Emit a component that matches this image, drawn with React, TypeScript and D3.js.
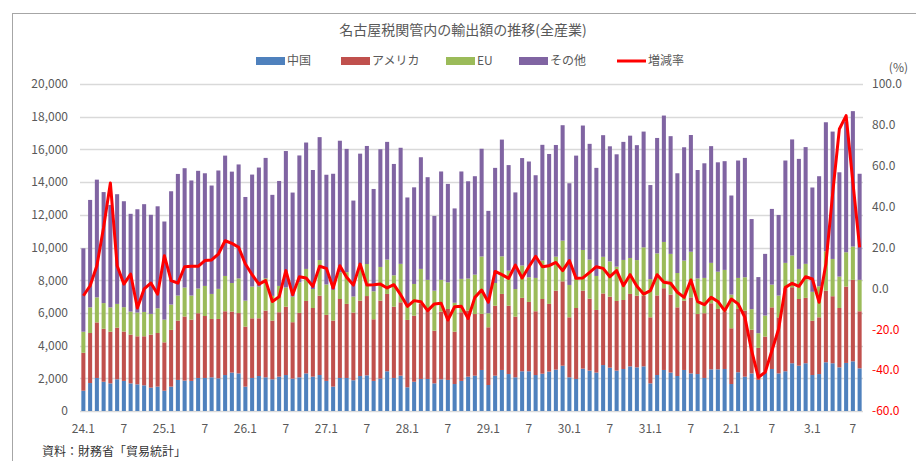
import React, { useRef, useEffect } from 'react';
import * as d3 from 'd3';

// 年（平成24〜31、令和2〜3）
const years = ['24', '25', '26', '27', '28', '29', '30', '31', '2', '3'];
const monthCount = 116;
const months: string[] = [];
years.forEach((yy) => {
  for (let m = 1; m <= 12; m++) {
    if (months.length < monthCount) months.push(`${yy}.${m}`);
  }
});

const tickLabels = [
  '24.1', '7', '25.1', '7', '26.1', '7', '27.1', '7', '28.1', '7',
  '29.1', '7', '30.1', '7', '31.1', '7', '2.1', '7', '3.1', '7',
];

// 億円
const china = [
  1240, 1710, 2020, 1790, 1690, 1940, 1840, 1690, 1630, 1570, 1430, 1490,
  1240, 1490, 1900, 1860, 1840, 2020, 2020, 2060, 2000, 2200, 2350, 2300,
  1490, 2020, 2140, 2060, 1940, 2100, 2200, 1980, 2060, 2300, 2100, 2200,
  1840, 1490, 2020, 2020, 1880, 2140, 2180, 1840, 1980, 2430, 2020, 2160,
  1450, 1790, 1960, 1960, 1690, 1940, 1900, 1650, 1840, 2100, 2160, 2510,
  1590, 2160, 2510, 2260, 2060, 2430, 2430, 2200, 2280, 2410, 2530, 2770,
  2060, 1960, 2590, 2470, 2350, 2810, 2650, 2470, 2570, 2730, 2670, 2730,
  1690, 2200, 2510, 2350, 2140, 2510, 2300, 2260, 2020, 2550, 2550, 2570,
  1650, 2370, 2100, 2300, 1900, 2350, 2570, 2300, 2430, 2920, 2770, 2920,
  2200, 2260, 2980, 2920, 2670, 2940, 3040, 2610,
];
const usa = [
  2320, 3060, 3400, 3240, 3160, 3160, 3020, 2980, 2940, 3000, 3240, 3280,
  2960, 3470, 3630, 3920, 3750, 3960, 3790, 3570, 3630, 3900, 3730, 3690,
  3670, 3650, 3530, 4080, 3590, 3940, 4180, 3450, 3940, 4430, 4200, 4850,
  4040, 4040, 4830, 4530, 4140, 4610, 4850, 3770, 4770, 4730, 4360, 4490,
  4120, 4040, 4590, 4180, 3220, 4140, 4340, 3200, 4200, 4040, 3770, 3430,
  3530, 4280, 4650, 4180, 3710, 4490, 4240, 3900, 4570, 4140, 4830, 5160,
  3670, 4340, 4770, 4400, 3830, 4380, 4340, 4260, 4220, 4430, 4380, 4320,
  4040, 4870, 5000, 4770, 4200, 4240, 4650, 3670, 3960, 4040, 3690, 3510,
  3410, 3870, 4040, 2670, 1960, 2200, 3770, 3430, 5100, 4650, 4080, 4000,
  3320, 3470, 4380, 4100, 3630, 4670, 4980, 3490,
];
const eu = [
  1290, 1570, 1530, 1570, 1490, 1450, 1490, 1410, 1450, 1490, 1270, 1510,
  1390, 1550, 1530, 1770, 1470, 1510, 1840, 1530, 1840, 2160, 1750, 2120,
  1590, 1940, 1940, 1980, 1510, 1610, 1180, 1570, 1860, 1960, 1160, 2180,
  1860, 1880, 1630, 1940, 980, 2240, 1960, 1710, 2060, 2100, 1920, 2350,
  840, 1940, 2140, 1880, 2450, 1940, 1630, 1770, 2040, 1960, 2410, 3510,
  860, 1390, 2300, 2140, 1690, 1980, 1510, 2040, 2350, 2280, 2080, 2490,
  1980, 1770, 2490, 2390, 2080, 2240, 2160, 2100, 2450, 2200, 2180, 2960,
  2340, 2570, 2830, 2490, 2100, 2450, 2790, 2180, 2160, 2470, 2280, 2550,
  2060, 1900, 2040, 1260, 900, 1290, 1390, 1330, 1530, 1940, 1840, 2080,
  1770, 1900, 2410, 2280, 1920, 2100, 2040, 1920,
];
const others = [
  5100, 6570, 7200, 6790, 6260, 6710, 6480, 5980, 6320, 6590, 6060, 6240,
  6000, 6930, 7440, 7300, 7040, 7200, 6890, 6630, 7240, 7360, 6810, 6970,
  6340, 6850, 7280, 7360, 6180, 6420, 8340, 6360, 7770, 7730, 7280, 7520,
  6710, 7100, 8050, 7540, 5870, 6750, 7220, 6260, 7200, 7200, 6810, 7100,
  6650, 5910, 6830, 6280, 4570, 6630, 6020, 5770, 6570, 5950, 6020, 6590,
  6260, 7040, 7140, 6460, 5910, 6570, 7080, 6280, 7080, 6890, 6830, 7060,
  6220, 7550, 7610, 7080, 6610, 7440, 7040, 6870, 7220, 7480, 7030, 7080,
  5750, 7060, 7730, 7200, 6100, 6930, 7140, 6630, 7010, 7140, 6690, 6650,
  6060, 7180, 7300, 5510, 3430, 3770, 4630, 4930, 6260, 7100, 6730, 7140,
  6380, 6730, 7890, 7790, 6380, 7990, 8280, 6490,
];
// 増減率（%）
const growth = [
  -3.6, 1.3, 11.1, 29.9, 51.6, 11.1, 2.1, 7.0, -9.6, -0.3, 2.6, -2.8,
  16.0, 3.8, 2.6, 10.6, 10.8, 10.8, 13.6, 13.9, 16.8, 23.3, 22.0, 20.1,
  11.9, 6.7, 2.1, 3.8, -6.4, -4.1, 8.7, -3.1, 5.7, 5.1, 1.0, 10.8,
  9.8, 0.2, 11.1, 5.4, 1.6, 11.9, 1.6, 1.8, 2.1, 0.2, 1.8, -3.1,
  -8.8, -6.0, -6.5, -10.9, -7.6, -7.3, -15.5, -9.0, -8.8, -14.7, -4.4, -0.8,
  -6.8, 8.3, 6.7, 4.9, 11.4, 5.1, 10.6, 15.7, 10.6, 11.1, 12.7, 8.7,
  13.6, 4.9, 5.1, 7.8, 10.6, 9.8, 5.7, 8.7, 1.3, 6.7, 1.0, -2.8,
  -1.1, 6.7, 3.0, 2.5, -1.9, -4.4, 4.1, -6.5, -8.0, -4.4, -6.4, -10.9,
  -5.2, -7.6, -14.2, -30.5, -43.5, -41.1, -30.5, -19.9, 0.5, 2.5, 1.0, 5.7,
  4.6, -6.8, 11.9, 46.2, 78.0, 84.5, 52.0, 20.1,
];

const seriesKeys = ['中国', 'アメリカ', 'EU', 'その他'];
const colors = ['#4f81bd', '#c0504d', '#9bbb59', '#8064a2'];

const FONT = '"Noto Sans CJK JP", "Noto Sans", sans-serif';

const Chart = () => {
  const ref = useRef<SVGSVGElement>(null);

  useEffect(() => {
    const svg = d3.select(ref.current);
    svg.selectAll('*').remove();

    const margin = { left: 80, right: 863, top: 84, bottom: 411 };

    const rows = months.map((m, i) => ({
      month: m,
      中国: china[i],
      アメリカ: usa[i],
      EU: eu[i],
      その他: others[i],
    }));

    const x = d3
      .scaleBand()
      .domain(months)
      .range([margin.left, margin.right])
      .paddingInner(0.4)
      .paddingOuter(0.2);
    const y = d3.scaleLinear().domain([0, 20000]).range([margin.bottom, margin.top]);
    const y2 = d3.scaleLinear().domain([-60, 100]).range([margin.bottom, margin.top]);

    // 外枠
    svg
      .append('rect')
      .attr('x', 12.5)
      .attr('y', 13.5)
      .attr('width', 1000)
      .attr('height', 1000)
      .attr('fill', '#fff')
      .attr('stroke', '#a6a6a6');

    // グリッド
    svg
      .append('g')
      .selectAll('line')
      .data(y.ticks(10))
      .enter()
      .append('line')
      .attr('x1', margin.left)
      .attr('x2', margin.right)
      .attr('y1', (d) => Math.round(y(d)) + 0.5)
      .attr('y2', (d) => Math.round(y(d)) + 0.5)
      .attr('stroke', '#d9d9d9')
      .attr('stroke-width', 1.5);

    // 積み上げ棒
    const stacked = d3.stack<any>().keys(seriesKeys)(rows);
    svg
      .append('g')
      .selectAll('g')
      .data(stacked)
      .enter()
      .append('g')
      .attr('fill', (_, i) => colors[i])
      .selectAll('rect')
      .data((d) => d)
      .enter()
      .append('rect')
      .attr('x', (d: any) => x(d.data.month)!)
      .attr('width', x.bandwidth())
      .attr('y', (d) => y(d[1]))
      .attr('height', (d) => y(d[0]) - y(d[1]));

    // 増減率
    const line = d3
      .line<number>()
      .x((_, i) => x(months[i])! + x.bandwidth() / 2)
      .y((d) => y2(d));
    svg
      .append('path')
      .datum(growth)
      .attr('d', line)
      .attr('fill', 'none')
      .attr('stroke', '#ff0000')
      .attr('stroke-width', 3)
      .attr('stroke-linejoin', 'round');

    // 軸
    const styleAxis = (g: any) => {
      g.select('.domain').remove();
      g.selectAll('text')
        .attr('font-family', FONT)
        .attr('font-size', 12)
        .attr('fill', '#595959');
    };

    svg
      .append('g')
      .attr('transform', `translate(${margin.left},0)`)
      .call(d3.axisLeft(y).ticks(10).tickSize(0).tickPadding(12).tickFormat(d3.format(',')))
      .call(styleAxis);

    svg
      .append('g')
      .attr('transform', `translate(${margin.right},0)`)
      .call(d3.axisRight(y2).ticks(8).tickSize(0).tickPadding(9).tickFormat((d: any) => d.toFixed(1)))
      .call(styleAxis)
      .selectAll('text')
      .attr('fill', (d: any) => (d < 0 ? '#ff0000' : '#595959'));

    const tickMonths = months.filter((_, i) => i % 6 === 0);
    svg
      .append('g')
      .attr('transform', `translate(0,${margin.bottom})`)
      .call(
        d3
          .axisBottom(x)
          .tickValues(tickMonths)
          .tickSize(0)
          .tickPadding(13)
          .tickFormat((_, i) => tickLabels[i])
      )
      .call(styleAxis);

    // タイトル
    svg
      .append('text')
      .attr('x', 463)
      .attr('y', 35)
      .attr('text-anchor', 'middle')
      .attr('font-family', FONT)
      .attr('font-size', 14)
      .attr('fill', '#595959')
      .text('名古屋税関管内の輸出額の推移(全産業)');

    // 凡例
    const legendX = [256, 341, 446, 519, 617];
    const legend = svg.append('g').attr('font-family', FONT).attr('font-size', 12).attr('fill', '#595959');
    seriesKeys.forEach((k, i) => {
      legend
        .append('rect')
        .attr('x', legendX[i])
        .attr('y', 57)
        .attr('width', 29)
        .attr('height', 8)
        .attr('fill', colors[i]);
      legend
        .append('text')
        .attr('x', legendX[i] + 31)
        .attr('y', 65)
        .text(k);
    });
    legend
      .append('line')
      .attr('x1', legendX[4])
      .attr('x2', legendX[4] + 29)
      .attr('y1', 61)
      .attr('y2', 61)
      .attr('stroke', '#ff0000')
      .attr('stroke-width', 3);
    legend
      .append('text')
      .attr('x', legendX[4] + 31)
      .attr('y', 65)
      .text('増減率');

    svg
      .append('text')
      .attr('x', 908)
      .attr('y', 72)
      .attr('text-anchor', 'end')
      .attr('font-family', FONT)
      .attr('font-size', 12)
      .attr('fill', '#595959')
      .text('(%)');

    svg
      .append('text')
      .attr('x', 42)
      .attr('y', 456)
      .attr('font-family', FONT)
      .attr('font-size', 12)
      .attr('fill', '#333')
      .text('資料：財務省「貿易統計」');
  }, []);

  return (
    <svg
      ref={ref}
      width={916}
      height={461}
      style={{ position: 'absolute', left: 0, top: 0, background: '#fff' }}
    />
  );
};

export default function App() {
  return <Chart />;
}
